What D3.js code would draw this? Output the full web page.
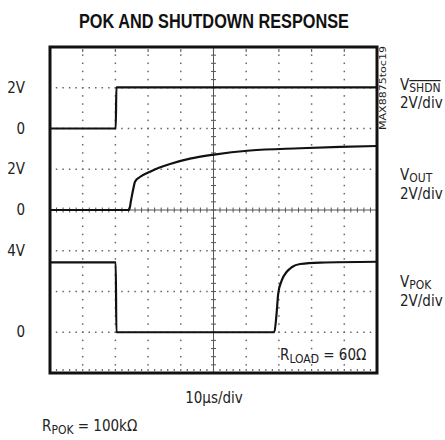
<!DOCTYPE html>
<html>
<head>
<meta charset="utf-8">
<script src="https://cdn.jsdelivr.net/npm/d3@7"></script>
<style>
body { margin: 0; background: #fff; }
svg text { font-family: "Liberation Sans Narrow", "DejaVu Sans Condensed", "Arial Narrow", sans-serif; fill: #222; }
</style>
</head>
<body>
<div id="chart"></div>
<script>
// scope screen: 10 x 8 divisions, 10us/div, 2V/div
var DIVS_X = 10;
var DIVS_Y = 8;
var US_PER_DIV = 10;
var VOLTS_PER_DIV = 2;

// traces (time in us, volts)
var shdnTime = [0, 20.1, 20.3, 100];
var shdnVolt = [0, 0, 2.02, 2.02];
var outTime = [0, 24.2, 24.8, 25.4, 26.0, 27.5, 30.6, 33.5, 36.7, 42.8, 50.2, 61.2, 76.5, 88.7, 100];
var outVolt = [0, 0, 0.49, 0.98, 1.39, 1.62, 1.88, 2.09, 2.26, 2.52, 2.72, 2.92, 3.03, 3.10, 3.14];
var pokTime = [0, 20.1, 20.3, 68.6, 69.3, 69.8, 70.9, 72.4, 73.9, 76.5, 82.6, 100];
var pokVolt = [3.43, 3.43, 0, 0, 0.93, 1.91, 2.56, 2.97, 3.19, 3.35, 3.42, 3.46];

// where each channel's zero level sits (divisions from bottom)
var channelZero = [6, 4, 1];

var leftLabels = ["2V", "0", "2V", "0", "4V", "0"];
var leftLabelDiv = [7, 6, 5, 4, 3, 1];

var W = 445, H = 440;
var margin = {top: 47, right: 68, bottom: 67, left: 50};
var plotW = W - margin.left - margin.right;
var plotH = H - margin.top - margin.bottom;

var svg = d3.select('#chart')
    .append('svg')
    .attr('width', W)
    .attr('height', H);

var x = d3.scaleLinear().domain([0, DIVS_X * US_PER_DIV]).range([margin.left, margin.left + plotW]);
var xd = d3.scaleLinear().domain([0, DIVS_X]).range([margin.left, margin.left + plotW]);
var yd = d3.scaleLinear().domain([0, DIVS_Y]).range([margin.top + plotH, margin.top]);

var grid = svg.append('g');

// dotted division lines
var hDivs = d3.range(1, DIVS_Y).filter((d) => d != DIVS_Y / 2);
var vDivs = d3.range(1, DIVS_X).filter((d) => d != DIVS_X / 2);
hDivs.forEach(function (j) {
    grid.selectAll(null)
        .data(d3.range(1, DIVS_X * 5))
        .enter()
        .append('rect')
        .attr('x', (i) => xd(i / 5) - 0.75)
        .attr('y', yd(j) - 0.75)
        .attr('width', 1.5)
        .attr('height', 1.5)
        .style('fill', '#666');
});
vDivs.forEach(function (k) {
    grid.selectAll(null)
        .data(d3.range(1, DIVS_Y * 5))
        .enter()
        .append('rect')
        .attr('x', xd(k) - 0.75)
        .attr('y', (i) => yd(i / 5) - 0.75)
        .attr('width', 1.5)
        .attr('height', 1.5)
        .style('fill', '#666');
});

// center crosshair with minor ticks
grid.append('line')
    .attr('x1', xd(0)).attr('x2', xd(DIVS_X))
    .attr('y1', yd(DIVS_Y / 2)).attr('y2', yd(DIVS_Y / 2))
    .style('stroke', '#555').style('stroke-width', 1);
grid.append('line')
    .attr('x1', xd(DIVS_X / 2)).attr('x2', xd(DIVS_X / 2))
    .attr('y1', yd(0)).attr('y2', yd(DIVS_Y))
    .style('stroke', '#555').style('stroke-width', 1);
grid.selectAll(null)
    .data(d3.range(1, DIVS_X * 5))
    .enter()
    .append('line')
    .attr('x1', (i) => xd(i / 5)).attr('x2', (i) => xd(i / 5))
    .attr('y1', yd(DIVS_Y / 2) - 2.5).attr('y2', yd(DIVS_Y / 2) + 2.5)
    .style('stroke', '#555').style('stroke-width', 1);
grid.selectAll(null)
    .data(d3.range(1, DIVS_Y * 5))
    .enter()
    .append('line')
    .attr('y1', (i) => yd(i / 5)).attr('y2', (i) => yd(i / 5))
    .attr('x1', xd(DIVS_X / 2) - 2.5).attr('x2', xd(DIVS_X / 2) + 2.5)
    .style('stroke', '#555').style('stroke-width', 1);

// small ticks along inside of frame
grid.selectAll(null)
    .data(d3.range(1, DIVS_X * 5))
    .enter()
    .append('rect')
    .attr('x', (i) => xd(i / 5) - 0.6)
    .attr('y', yd(0) - 4)
    .attr('width', 1.2).attr('height', 2)
    .style('fill', '#666');
grid.selectAll(null)
    .data(d3.range(1, DIVS_X))
    .enter()
    .append('rect')
    .attr('x', (i) => xd(i) - 0.6)
    .attr('y', yd(DIVS_Y) + 2)
    .attr('width', 1.2).attr('height', 3)
    .style('fill', '#666');

// traces
var line = d3.line()
    .curve(d3.curveMonotoneX)
    .x((d) => x(d[0]))
    .y((d) => yd(d[2] + d[1] / VOLTS_PER_DIV));

var traces = [
    d3.zip(shdnTime, shdnVolt).map((p) => [p[0], p[1], channelZero[0]]),
    d3.zip(outTime, outVolt).map((p) => [p[0], p[1], channelZero[1]]),
    d3.zip(pokTime, pokVolt).map((p) => [p[0], p[1], channelZero[2]])
];
svg.selectAll('.trace')
    .data(traces)
    .enter()
    .append('path')
    .attr('class', 'trace')
    .attr('d', line)
    .style('fill', 'none')
    .style('stroke', '#111')
    .style('stroke-width', 2.2)
    .style('stroke-linejoin', 'round');

// frame
svg.append('rect')
    .attr('x', margin.left)
    .attr('y', margin.top)
    .attr('width', plotW)
    .attr('height', plotH)
    .style('fill', 'none')
    .style('stroke', '#111')
    .style('stroke-width', 3);

// title
svg.append('text')
    .text('POK AND SHUTDOWN RESPONSE')
    .attr('x', 214)
    .attr('y', 28)
    .attr('text-anchor', 'middle')
    .attr('textLength', 270)
    .attr('lengthAdjust', 'spacingAndGlyphs')
    .style('font-family', '"Liberation Sans", Arial, sans-serif')
    .style('font-weight', 'bold')
    .style('font-size', '21px')
    .style('fill', '#111');

// left volt labels
svg.selectAll('.vlabel')
    .data(leftLabels)
    .enter()
    .append('text')
    .attr('class', 'vlabel')
    .text((d) => d)
    .attr('x', 25)
    .attr('y', (d, i) => yd(leftLabelDiv[i]) + 5)
    .attr('text-anchor', 'end')
    .style('font-size', '15px');

// right channel labels
function channelLabel(sub, y1, y2, over) {
    var t = svg.append('text')
        .attr('x', 400)
        .attr('y', y1)
        .style('font-size', '15px');
    t.append('tspan').text('V');
    t.append('tspan')
        .text(sub)
        .attr('dy', 2)
        .style('font-size', '12px')
        .style('text-decoration', over ? 'overline' : 'none');
    svg.append('text')
        .text('2V/div')
        .attr('x', 400)
        .attr('y', y2)
        .style('font-size', '15px');
}
channelLabel('SHDN', 90, 108, true);
channelLabel('OUT', 180, 199, false);
channelLabel('POK', 287, 306, false);

// figure code, rotated
svg.append('text')
    .text('MAX8875toc19')
    .attr('transform', 'translate(386,130) rotate(-90)')
    .attr('textLength', 84)
    .attr('lengthAdjust', 'spacingAndGlyphs')
    .style('font-size', '9px');

// load note inside plot
var rl = svg.append('text')
    .attr('x', 280)
    .attr('y', 360)
    .style('font-size', '15px');
rl.append('tspan').text('R');
rl.append('tspan').text('LOAD').attr('dy', 2.5).style('font-size', '12px');
rl.append('tspan').text(' = 60Ω').attr('dy', -2.5);

// time base
svg.append('text')
    .text('10µs/div')
    .attr('x', 214)
    .attr('y', 403)
    .attr('text-anchor', 'middle')
    .style('font-size', '15px');

var rp = svg.append('text')
    .attr('x', 42)
    .attr('y', 431)
    .style('font-size', '15px');
rp.append('tspan').text('R');
rp.append('tspan').text('POK').attr('dy', 2.5).style('font-size', '12px');
rp.append('tspan').text(' = 100kΩ').attr('dy', -2.5);
</script>
</body>
</html>
